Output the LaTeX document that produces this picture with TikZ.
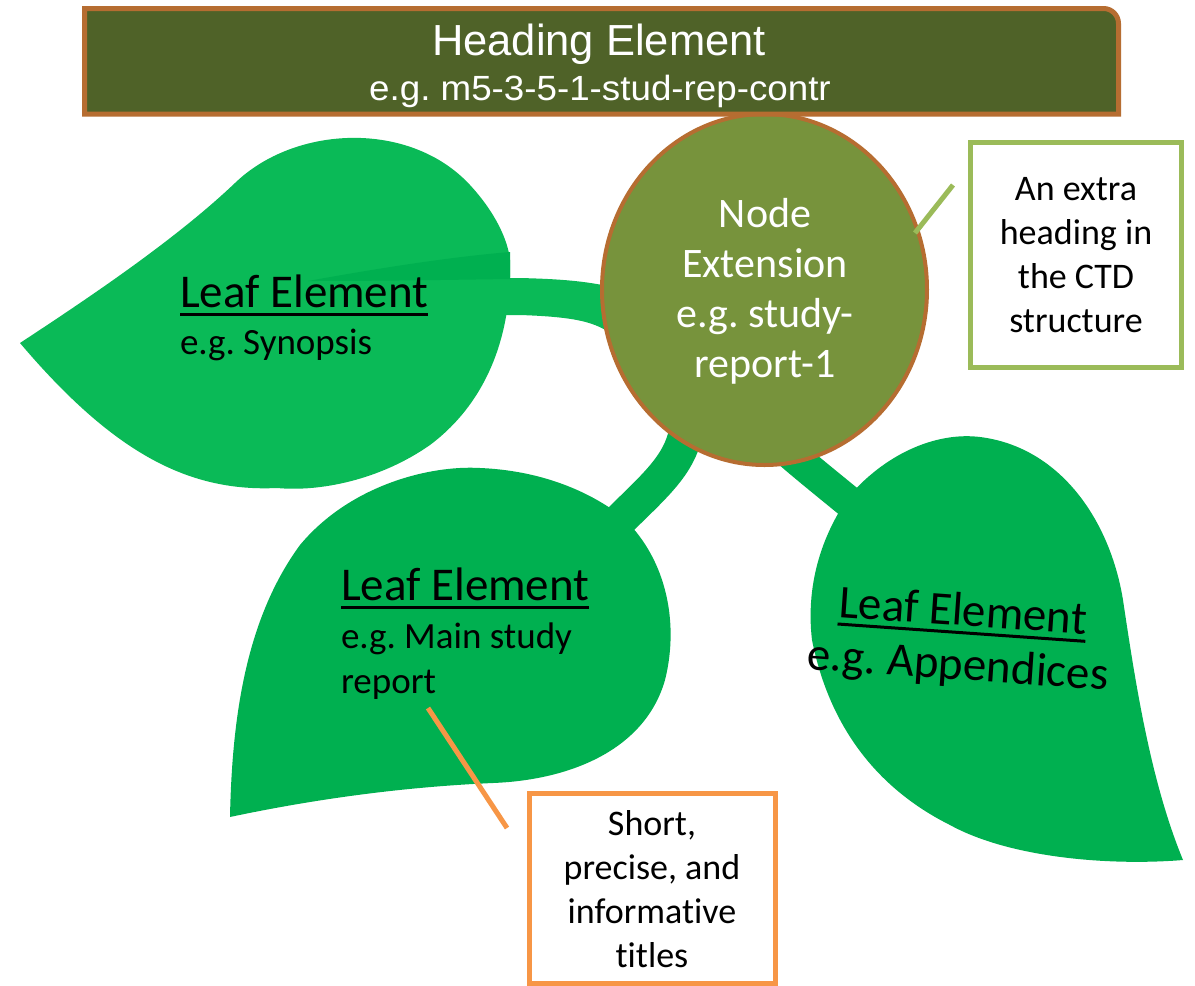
\documentclass[tikz,border=0pt]{standalone}
\usepackage{fontspec}
\setmainfont{Carlito}[Ligatures={NoCommon,NoRequired,NoContextual}]
\newfontfamily\headfont{Liberation Sans}
\newfontfamily\headwidefont[FakeStretch=1.05]{Liberation Sans}
\usetikzlibrary{shapes.geometric,calc}

\definecolor{leafA}{HTML}{0ABA57}
\definecolor{leafB}{HTML}{00B050}
\definecolor{bark}{HTML}{B66D31}
\definecolor{olive}{HTML}{4F6228}
\definecolor{moss}{HTML}{77933C}
\definecolor{lime}{HTML}{9BBB59}
\definecolor{amber}{HTML}{F79646}

\newcommand\fsz[2]{\fontsize{#1}{#2}\selectfont}
% invisible strut that fixes the height of a first text line
\newcommand\topline{\rule{0pt}{0.8em}}
\frenchspacing

\begin{document}
\begin{tikzpicture}[x=1pt,y=-1pt,
  txt/.style={inner sep=0pt, outer sep=0pt},
  leaftitle/.style={txt, anchor=base west, font=\fsz{47}{57}},
  leafsub/.style={txt, anchor=base west, font=\fsz{37}{45}},
  note/.style={txt, anchor=north, align=center, font=\fsz{36}{44.3}},
  uline/.style={line width=3pt},
  callout/.style={line width=5pt, inner sep=0pt, fill=white}
]
\useasboundingbox (0,0) rectangle (1195,986);
\fill[white] (0,0) rectangle (1195,986);

% stems joining the leaves to the central node
\fill[leafA] (500,278) -- (520,278) .. controls (560,279) and (585,281) .. (612,287)
  -- (612,334) .. controls (595,323) and (580,317) .. (520,315) -- (500,315) -- cycle;
\draw[leafB, line width=34pt] (688,410) .. controls (688,460) and (660,480) .. (615,525);
\draw[leafB, line width=32pt] (775,440) .. controls (800,462) .. (865,515);

% upper left leaf
\fill[leafA] (20,343) .. controls (90,297) and (175,240) .. (235,183)
  .. controls (295,125) and (410,120) .. (470,185)
  .. controls (495,212) and (508,240) .. (510,260)
  .. controls (512,330) and (490,400) .. (430,445)
  .. controls (380,480) and (320,492) .. (277,488)
  .. controls (190,492) and (115,455) .. (20,343) -- cycle;
\fill[leafB] (308,281) .. controls (380,268) and (450,257) .. (510,252)
  -- (510,279) .. controls (440,280) and (380,281) .. (308,281) -- cycle;

% lower middle leaf
\fill[leafB] (230,817) .. controls (232,720) and (245,620) .. (300,545)
  .. controls (350,485) and (430,465) .. (480,468)
  .. controls (530,470) and (580,485) .. (620,515)
  .. controls (665,555) and (680,620) .. (665,680)
  .. controls (645,750) and (570,780) .. (493,783)
  .. controls (400,787) and (310,800) .. (230,817) -- cycle;

% lower right leaf
\fill[leafB] (850,495) .. controls (890,450) and (940,432) .. (980,437)
  .. controls (1060,447) and (1110,520) .. (1123,600)
  .. controls (1135,680) and (1150,780) .. (1183,860)
  .. controls (1110,866) and (1010,858) .. (950,825)
  .. controls (880,790) and (830,730) .. (812,640)
  .. controls (805,580) and (825,530) .. (850,495) -- cycle;

% central node
\node[ellipse, draw=bark, line width=4pt, fill=moss, inner sep=0pt,
  minimum width=325pt, minimum height=351pt] (ext) at (764.5,289.5) {};
\node[txt, anchor=north, align=center, text=white, font=\fsz{42}{50}] (extlbl)
  at (765,193.4) {\topline Node\\Extension\\e.g. study-\\report-1};

% heading bar, only its upper right corner rounded
\draw[bark, fill=olive, line width=5pt] (84.5,114) -- (84.5,8.5) -- (1103.5,8.5)
  .. controls (1111.8,8.5) and (1118.5,15.2) .. (1118.5,23.5) -- (1118.5,114) -- cycle;
\node[txt, anchor=base, text=white, font=\headfont\fsz{43.5}{50}] (head) at (599,55) {Heading Element};
\node[txt, anchor=base, text=white, font=\headwidefont\fsz{35}{40}] (headid) at (600,100) {e.g. m5-3-5-1-stud-rep-contr};

% leaf labels
\node[leaftitle] (lf1t) at (180,307) {Leaf Element};
\node[leafsub] (lf1s) at (180,354) {e.g. Synopsis};
\node[leaftitle] (lf2t) at (341,600) {Leaf Element};
\node[txt, anchor=north west, align=left, font=\fsz{37}{45}] (lf2s) at (341,618.4)
  {\topline e.g. Main study\\report};
\node[leaftitle, rotate=-4] (lf3t) at (838,617) {Leaf Element};
\node[leaftitle, rotate=-4] (lf3s) at (806,669) {e.g. Appendices};
\foreach \t in {lf1t,lf2t,lf3t}
  \draw[uline] ($(\t.base west)!7pt!-90:(\t.base east)$) -- ($(\t.base east)!7pt!90:(\t.base west)$);

% callouts
\node[callout, draw=lime, minimum width=211pt, minimum height=225pt] (gbox) at (1076,255) {};
\node[note] (gtxt) at (1076,171.2) {\topline An extra\\heading in\\the CTD\\structure};
\coordinate (gA) at (953,185);
\coordinate (gB) at (915,233);
\draw[lime, line width=5pt] (gA) -- (gB);

\node[callout, draw=amber, minimum width=246.5pt, minimum height=189.5pt] (obox) at (652.25,888.25) {};
\node[note] (otxt) at (652,806.2) {\topline Short,\\precise, and\\informative\\titles};
\coordinate (oA) at (428,708);
\coordinate (oB) at (507,828);
\draw[amber, line width=5pt] (oA) -- (oB);
\end{tikzpicture}
\end{document}
